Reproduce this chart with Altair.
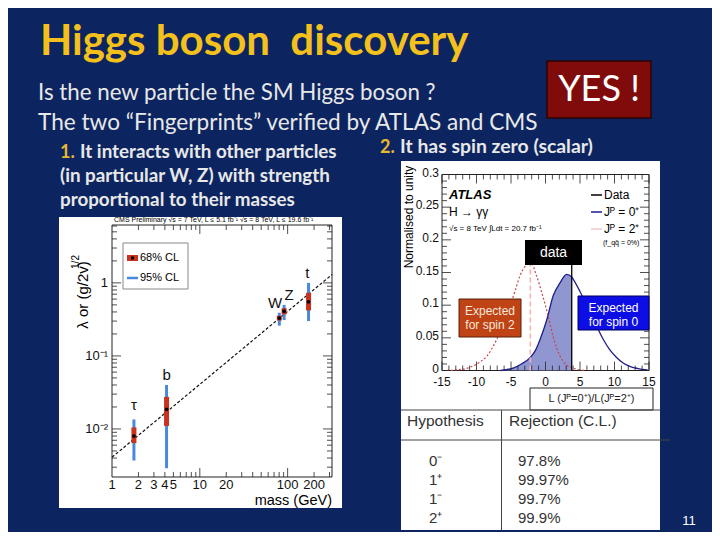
import altair as alt
import pandas as pd

W, H = 704, 524
BG = "#0c2560"


def X(v):
    return v - 8


def Y(v):
    return v - 8


# ---------------- data: CMS coupling plot ----------------
particles = ["τ", "b", "W", "Z", "t"]
mass = [1.777, 4.18, 80.4, 91.2, 173.0]
lam = [0.0080, 0.0185, 0.33, 0.41, 0.55]
lo68 = [0.0064, 0.0110, 0.305, 0.37, 0.42]
hi68 = [0.0105, 0.0275, 0.355, 0.45, 0.73]
lo95 = [0.0037, 0.0029, 0.26, 0.31, 0.30]
hi95 = [0.0135, 0.0400, 0.39, 0.50, 1.00]
label_mass = [1.777, 4.18, 72.0, 104.0, 168.0]
label_lam = [0.021, 0.055, 0.53, 0.68, 1.38]
sm_mass = [1.0, 320.0]
sm_lam = [0.0041, 1.30]

cms_x_labels = [1, 2, 3, 4, 5, 10, 20, 100, 200]
cms_x_label_text = ["1", "2", "3", "4", "5", "10", "20", "100", "200"]
cms_y_labels = [0.01, 0.1, 1]
cms_y_label_text = ["10⁻²", "10⁻¹", "1"]
cms_x_major = [10, 100]
cms_x_minor = [2, 3, 4, 5, 6, 7, 8, 9, 20, 30, 40, 50, 60, 70, 80, 90, 200, 300]
cms_y_major = [0.01, 0.1, 1]
cms_y_minor = [0.003, 0.004, 0.005, 0.006, 0.007, 0.008, 0.009,
               0.02, 0.03, 0.04, 0.05, 0.06, 0.07, 0.08, 0.09,
               0.2, 0.3, 0.4, 0.5, 0.6, 0.7, 0.8, 0.9, 2, 3, 4, 5, 6]

# ---------------- data: ATLAS spin plot ----------------
spin0_x = [-6.5, -4.6, -3.5, -2.2, -1.4, -0.8, 0.2, 1.1, 2.1, 3.07, 3.8, 4.0,
           5.0, 6.4, 7.4, 8.4, 9.3, 10.3, 11.3, 12.3, 13.4, 14.8]
spin0_y = [0.0, 0.004, 0.010, 0.020, 0.032, 0.047, 0.078, 0.114, 0.134, 0.147, 0.143, 0.140,
           0.121, 0.089, 0.068, 0.047, 0.032, 0.020, 0.011, 0.006, 0.003, 0.001]
spin2_x = [-14.3, -12.8, -11.2, -10.5, -9.5, -8.5, -7.8, -7.1, -6.1, -5.2, -4.4, -3.7,
           -2.9, -2.2, -1.3, -0.4, 0.4, 1.1, 2.1, 3.1, 4.5, 5.7]
spin2_y = [0.0, 0.001, 0.004, 0.007, 0.013, 0.022, 0.033, 0.047, 0.073, 0.098, 0.122, 0.145,
           0.160, 0.167, 0.145, 0.114, 0.083, 0.052, 0.022, 0.008, 0.002, 0.0]
data_value = [3.8]
data_top = [0.163]
spin2_median = [-2.2]
spin2_peak = [0.165]

atl_x_major = [-15, -10, -5, 0, 5, 10, 15]
atl_x_label_text = ["-15", "-10", "-5", "0", "5", "10", "15"]
atl_x_minor = [v for v in range(-14, 15) if v % 5 != 0]
atl_y_major = [0, 0.05, 0.1, 0.15, 0.2, 0.25, 0.3]
atl_y_label_text = ["0", "0.05", "0.1", "0.15", "0.2", "0.25", "0.3"]
atl_y_minor = [round(0.01 * i, 2) for i in range(1, 30) if i % 5 != 0]

# ---------------- data: table ----------------
hypothesis = ["0⁻", "1⁺", "1⁻", "2⁺"]
rejection = ["97.8%", "99.97%", "99.7%", "99.9%"]

SANS = "Liberation Sans"
SLIDE = "Lato"


# ---------------- helpers (decoration) ----------------
def one():
    return pd.DataFrame({"a": [0]})


def box(x1, y1, x2, y2, fill, stroke=None, sw=1.0, fill_opacity=1.0):
    props = dict(fill=fill, fillOpacity=fill_opacity)
    if stroke:
        props.update(stroke=stroke, strokeWidth=sw)
    else:
        props.update(strokeWidth=0)
    return alt.Chart(one()).mark_rect(**props).encode(
        x=alt.value(X(x1)), x2=alt.value(X(x2)), y=alt.value(Y(y1)), y2=alt.value(Y(y2)))


def seg(x1, y1, x2, y2, color="#000", sw=1.0, dash=None):
    props = dict(color=color, strokeWidth=sw)
    if dash:
        props["strokeDash"] = dash
    return alt.Chart(one()).mark_rule(**props).encode(
        x=alt.value(X(x1)), x2=alt.value(X(x2)), y=alt.value(Y(y1)), y2=alt.value(Y(y2)))


def txt(s, x, y, size=12, color="#000", font=SANS, weight="normal", align="left",
        baseline="middle", angle=0, style="normal"):
    props = dict(fontSize=size, color=color, font=font, fontWeight=weight, align=align,
                 baseline=baseline, fontStyle=style)
    if angle:
        props["angle"] = angle
    return alt.Chart(pd.DataFrame({"t": [s]})).mark_text(**props).encode(
        x=alt.value(X(x)), y=alt.value(Y(y)), text="t:N")


def xticks(vals, scale, ybase, length):
    return alt.Chart(pd.DataFrame({"v": vals})).mark_rule(color="#222", strokeWidth=0.8).encode(
        x=alt.X("v:Q", scale=scale, axis=None), y=alt.value(Y(ybase)), y2=alt.value(Y(ybase) + length))


def yticks(vals, scale, xbase, length):
    return alt.Chart(pd.DataFrame({"v": vals})).mark_rule(color="#222", strokeWidth=0.8).encode(
        y=alt.Y("v:Q", scale=scale, axis=None), x=alt.value(X(xbase)), x2=alt.value(X(xbase) + length))


def xlabels(vals, texts, scale, ycenter, size):
    df = pd.DataFrame({"v": vals, "t": texts})
    return alt.Chart(df).mark_text(font=SANS, fontSize=size, color="#111", baseline="middle",
                                   align="center").encode(
        x=alt.X("v:Q", scale=scale, axis=None), y=alt.value(Y(ycenter)), text="t:N")


def ylabels(vals, texts, scale, xright, size, dy=0):
    df = pd.DataFrame({"v": vals, "t": texts})
    return alt.Chart(df).mark_text(font=SANS, fontSize=size, color="#111", baseline="middle",
                                   align="right", dy=dy).encode(
        y=alt.Y("v:Q", scale=scale, axis=None), x=alt.value(X(xright)), text="t:N")


# ---------------- CMS panel ----------------
C_L, C_R, C_T, C_B = 112, 332, 225, 477
cms_xs = alt.Scale(type="log", domain=[1, 320], range=[X(C_L), X(C_R)])
cms_ys = alt.Scale(type="log", domain=[0.0022, 6.2], range=[Y(C_B), Y(C_T)])

cms_df = pd.DataFrame({"p": particles, "m": mass, "lam": lam, "lo68": lo68, "hi68": hi68,
                       "lo95": lo95, "hi95": hi95, "lm": label_mass, "ll": label_lam})
sm_df = pd.DataFrame({"m": sm_mass, "lam": sm_lam})

sm_line = alt.Chart(sm_df).mark_line(color="#111", strokeWidth=1.2, strokeDash=[3, 2]).encode(
    x=alt.X("m:Q", scale=cms_xs, axis=None),
    y=alt.Y("lam:Q", scale=cms_ys, axis=None))
bar95 = alt.Chart(cms_df).mark_rule(color="#4a88dc", strokeWidth=3).encode(
    x=alt.X("m:Q", scale=cms_xs, axis=None),
    y=alt.Y("lo95:Q", scale=cms_ys, axis=None), y2="hi95:Q")
bar68 = alt.Chart(cms_df).mark_rule(color="#c8321e", strokeWidth=5).encode(
    x=alt.X("m:Q", scale=cms_xs, axis=None),
    y=alt.Y("lo68:Q", scale=cms_ys, axis=None), y2="hi68:Q")
dots = alt.Chart(cms_df).mark_point(filled=True, color="#000", size=14, opacity=1).encode(
    x=alt.X("m:Q", scale=cms_xs, axis=None),
    y=alt.Y("lam:Q", scale=cms_ys, axis=None))
plabels = alt.Chart(cms_df).mark_text(font=SANS, fontSize=15, color="#111").encode(
    x=alt.X("lm:Q", scale=cms_xs, axis=None),
    y=alt.Y("ll:Q", scale=cms_ys, axis=None), text="p:N")

cms_layer = alt.layer(
    sm_line,
    xticks(cms_x_major, cms_xs, C_B, -9), xticks(cms_x_minor, cms_xs, C_B, -5),
    xticks(cms_x_major, cms_xs, C_T, 9), xticks(cms_x_minor, cms_xs, C_T, 5),
    yticks(cms_y_major, cms_ys, C_L, 9), yticks(cms_y_minor, cms_ys, C_L, 5),
    yticks(cms_y_major, cms_ys, C_R, -9), yticks(cms_y_minor, cms_ys, C_R, -5),
    xlabels(cms_x_labels, cms_x_label_text, cms_xs, C_B + 8, 13),
    ylabels(cms_y_labels, cms_y_label_text, cms_ys, C_L - 4, 13),
    bar95, bar68, dots, plabels,
)

# ---------------- ATLAS panel ----------------
A_L, A_R, A_T, A_B = 442, 649, 174.5, 370.5
atl_xs = alt.Scale(domain=[-15, 15], range=[X(A_L), X(A_R)], nice=False, zero=False)
atl_ys = alt.Scale(domain=[0, 0.3], range=[Y(A_B), Y(A_T)], nice=False, zero=False)

s0 = pd.DataFrame({"x": spin0_x, "y": spin0_y})
s2 = pd.DataFrame({"x": spin2_x, "y": spin2_y})
dv = pd.DataFrame({"x": data_value, "y0": [0.0], "y1": data_top})
md = pd.DataFrame({"x": spin2_median, "y0": [0.0], "y1": spin2_peak})

hatch = alt.Chart(s0).transform_filter(alt.datum.x <= data_value[0]).mark_area(
    color="#7d85c8", opacity=0.85, interpolate="monotone").encode(
    x=alt.X("x:Q", scale=atl_xs, axis=None),
    y=alt.Y("y:Q", scale=atl_ys, axis=None))
spin0_line = alt.Chart(s0).mark_line(color="#1e1e8c", strokeWidth=1.3, interpolate="monotone").encode(
    x=alt.X("x:Q", scale=atl_xs, axis=None), y=alt.Y("y:Q", scale=atl_ys, axis=None))
spin2_line = alt.Chart(s2).mark_line(color="#cc4444", strokeWidth=1.2, strokeDash=[2, 2],
                                     interpolate="monotone").encode(
    x=alt.X("x:Q", scale=atl_xs, axis=None), y=alt.Y("y:Q", scale=atl_ys, axis=None))
median_line = alt.Chart(md).mark_rule(color="#f0b4b4", strokeWidth=1.6, strokeDash=[5, 3]).encode(
    x=alt.X("x:Q", scale=atl_xs, axis=None),
    y=alt.Y("y0:Q", scale=atl_ys, axis=None), y2="y1:Q")
data_line = alt.Chart(dv).mark_rule(color="#000", strokeWidth=1.3).encode(
    x=alt.X("x:Q", scale=atl_xs, axis=None),
    y=alt.Y("y0:Q", scale=atl_ys, axis=None), y2="y1:Q")

atl_layer = alt.layer(
    hatch, spin0_line, spin2_line, median_line, data_line,
    xticks(atl_x_major, atl_xs, A_B, -9), xticks(atl_x_minor, atl_xs, A_B, -5),
    xticks(atl_x_major, atl_xs, A_T, 9), xticks(atl_x_minor, atl_xs, A_T, 5),
    yticks(atl_y_major, atl_ys, A_L, 9), yticks(atl_y_minor, atl_ys, A_L, 5),
    yticks(atl_y_major, atl_ys, A_R, -9), yticks(atl_y_minor, atl_ys, A_R, -5),
    xlabels(atl_x_major, atl_x_label_text, atl_xs, A_B + 11, 12),
    ylabels(atl_y_major, atl_y_label_text, atl_ys, A_L - 3, 12, dy=-2),
)

# ---------------- table ----------------
tab = pd.DataFrame({"row": list(range(len(hypothesis))), "h": hypothesis, "r": rejection})
row_scale = alt.Scale(domain=[0, 3], range=[Y(461), Y(518)])
tab_h = alt.Chart(tab).mark_text(font=SANS, fontSize=15, color="#333", align="left").encode(
    x=alt.value(X(429)), y=alt.Y("row:Q", scale=row_scale, axis=None), text="h:N")
tab_r = alt.Chart(tab).mark_text(font=SANS, fontSize=15, color="#333", align="left").encode(
    x=alt.value(X(518)), y=alt.Y("row:Q", scale=row_scale, axis=None), text="r:N")
table_layer = alt.layer(tab_h, tab_r)

# ---------------- assemble ----------------
WHITE = "#ffffff"
NB = "\u00a0"
layers = [
    # white panels
    box(59, 217, 342, 508, WHITE),
    box(401, 161, 660, 530, WHITE),
    # frames
    box(C_L, C_T, C_R, C_B, WHITE, stroke="#222", sw=1),
    box(A_L, A_T, A_R, A_B, WHITE, stroke="#222", sw=1),
    cms_layer,
    atl_layer,
    # CMS legend and texts
    box(123, 243, 188, 289, WHITE, stroke="#888", sw=1),
    seg(127, 258, 138, 258, color="#c8321e", sw=6),
    box(131, 256.5, 134, 259.5, "#000"),
    txt("68% CL", 140, 258, size=11),
    seg(127, 278, 138, 278, color="#4a88dc", sw=2.5),
    txt("95% CL", 140, 278, size=11),
    txt("CMS Preliminary   √s = 7 TeV, L ≤ 5.1 fb⁻¹   √s = 8 TeV, L ≤ 19.6 fb⁻¹",
        114, 220, size=7, font="Liberation Sans Narrow, Liberation Sans"),
    txt("λ or (g/2v)", 83, 295, size=15, angle=270, align="center"),
    txt("1/2", 76, 262, size=10, angle=270, align="center"),
    txt("mass (GeV)", 332, 500.5, size=14.5, align="right"),
    # ATLAS annotations
    txt("ATLAS", 449, 195, size=13, weight="bold", style="italic"),
    txt("H → γγ", 449, 212, size=12),
    txt("√s = 8 TeV  ∫Ldt = 20.7 fb⁻¹", 449, 229, size=8),
    seg(591, 195, 602, 195, color="#000", sw=1.5),
    txt("Data", 604, 195, size=12),
    seg(591, 212, 602, 212, color="#1e1e8c", sw=1.5),
    txt("Jᴾ = 0⁺", 604, 212, size=12),
    seg(591, 229, 602, 229, color="#f0c8c8", sw=1.5),
    txt("Jᴾ = 2⁺", 604, 229, size=12),
    txt("(f_qq̄ = 0%)", 603, 243, size=7),
    txt("Normalised to unity", 409, 217, size=12, angle=270, align="center"),
    box(525, 240, 582, 265, "#000"),
    txt("data", 553.5, 252.5, size=14, color="#ffffff", align="center"),
    box(459, 299, 521, 337, "#bf4314", stroke="#5a2008", sw=1),
    txt("Expected", 490, 311, size=12, color="#f4e8dc", align="center"),
    txt("for spin 2", 490, 325, size=12, color="#f4e8dc", align="center"),
    box(578, 296, 649, 330, "#0d0de6", stroke="#000060", sw=1),
    txt("Expected", 613.5, 308, size=12, color="#ffffff", align="center"),
    txt("for spin 0", 613.5, 322, size=12, color="#ffffff", align="center"),
    # table decorations
    box(530, 388, 653, 410, WHITE, stroke="#222", sw=1),
    txt("L (Jᴾ=0⁺)/L(Jᴾ=2⁺)", 591.5, 399, size=11, color="#222", align="center"),
    seg(401, 410, 660, 410, color="#444", sw=1),
    seg(401, 440, 670, 440, color="#444", sw=1),
    seg(501.5, 410, 501.5, 530, color="#444", sw=1),
    txt("Hypothesis", 407, 421, size=15.5, color="#333"),
    txt("Rejection (C.L.)", 509, 421, size=15.5, color="#333"),
    table_layer,
    # slide texts
    txt("Higgs boson" + NB + NB + "discovery", 40, 55, size=42, color="#f3c01c", font=SLIDE,
        weight="bold", baseline="alphabetic"),
    txt("Is the new particle the SM Higgs boson ?", 38, 100, size=22.3, color="#e8e8e8",
        font=SLIDE, baseline="alphabetic"),
    txt("The two “Fingerprints” verified by ATLAS and CMS", 38, 130, size=22.6,
        color="#e8e8e8", font=SLIDE, baseline="alphabetic"),
    txt("1.", 60, 158, size=18, color="#e8b830", font=SLIDE, weight="bold", baseline="alphabetic"),
    txt("It interacts with other particles", 80, 158, size=18.8, color="#e8e8e8", font=SLIDE,
        weight="bold", baseline="alphabetic"),
    txt("(in particular W, Z) with strength", 60, 182, size=18.8, color="#e8e8e8", font=SLIDE,
        weight="bold", baseline="alphabetic"),
    txt("proportional to their masses", 60, 206, size=18.8, color="#e8e8e8", font=SLIDE,
        weight="bold", baseline="alphabetic"),
    txt("2.", 380, 153, size=18, color="#e8b830", font=SLIDE, weight="bold", baseline="alphabetic"),
    txt("It has spin zero (scalar)", 400, 153, size=19.4, color="#e8e8e8", font=SLIDE,
        weight="bold", baseline="alphabetic"),
    box(547, 61, 651, 118, "#800b0b", stroke="#2a0404", sw=1.5),
    txt("YES !", 599, 90, size=36, color="#ffffff", font=SLIDE, align="center"),
    txt("11", 689, 521, size=13, color="#ffffff", align="center"),
]

chart = alt.layer(*layers).resolve_scale(x="independent", y="independent").properties(
    width=W, height=H, padding=0, background=BG,
    autosize=alt.AutoSizeParams(type="none"),
).configure_view(stroke=None)

chart.save("out.html", embed_options={"renderer": "svg", "actions": False})
